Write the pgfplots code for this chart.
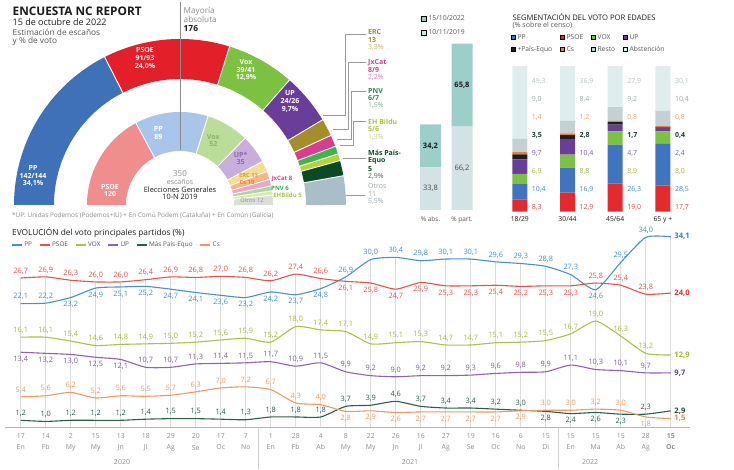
\documentclass[border=0pt]{standalone}
\usepackage{pgfplots}
\usepackage{pgfplotstable}
\pgfplotsset{compat=1.18}
\usepackage{fontspec}
\setmainfont{Open Sans}
\pgfplotsset{/pgf/number format/.cd, use comma, fixed, fixed zerofill, precision=1, assume math mode=true}

% outer ring (2022)
\definecolor{ppO}{HTML}{3E71B8}\definecolor{psoeO}{HTML}{E3202A}\definecolor{voxO}{HTML}{7DC143}
\definecolor{upO}{HTML}{6B3D9A}\definecolor{ercO}{HTML}{A38E2A}\definecolor{jxO}{HTML}{D93D8E}
\definecolor{pnvO}{HTML}{3DB54A}\definecolor{bilduO}{HTML}{B5D334}\definecolor{mpO}{HTML}{0B4A25}
\definecolor{otrosO}{HTML}{A9BEC7}
% inner ring (2019)
\definecolor{psoeI}{HTML}{F08E8E}\definecolor{ppI}{HTML}{A9C6EA}\definecolor{voxI}{HTML}{BBDD9A}
\definecolor{upI}{HTML}{C9ADDB}\definecolor{ercI}{HTML}{F5DE92}\definecolor{csI}{HTML}{F9B585}
\definecolor{jxI}{HTML}{F2A3CA}\definecolor{pnvI}{HTML}{A3DBA3}\definecolor{bilduI}{HTML}{DAEB9C}
\definecolor{otrosI}{HTML}{D9DDDD}
% lines
\definecolor{lPP}{HTML}{4A8FCB}\definecolor{lPSOE}{HTML}{E2534F}\definecolor{lVOX}{HTML}{A9C24A}
\definecolor{lUP}{HTML}{8E62B0}\definecolor{lMP}{HTML}{2C5E45}\definecolor{lCs}{HTML}{EA9A62}
\definecolor{tPP}{HTML}{3D8FC9}\definecolor{tPSOE}{HTML}{E0504F}\definecolor{tVOX}{HTML}{A5B53C}
\definecolor{tUP}{HTML}{7C5C99}\definecolor{tMP}{HTML}{2B5A45}\definecolor{tCs}{HTML}{EA9A60}
\definecolor{ePP}{HTML}{2F7FC0}\definecolor{ePSOE}{HTML}{E03030}\definecolor{eVOX}{HTML}{A0B030}
\definecolor{eUP}{HTML}{5A4A6A}\definecolor{eMP}{HTML}{2A4A3A}\definecolor{eCs}{HTML}{E88A40}
% bars
\definecolor{t22}{HTML}{9DCFC9}\definecolor{t19}{HTML}{D3E3E5}
\definecolor{sPSOE}{HTML}{E42A2D}\definecolor{sPP}{HTML}{4174C0}\definecolor{sVOX}{HTML}{7DC143}
\definecolor{sUP}{HTML}{6B3D9A}\definecolor{sMP}{HTML}{1E1E1E}\definecolor{sCs}{HTML}{F07F2C}
\definecolor{sResto}{HTML}{C4D1D4}\definecolor{sAbst}{HTML}{DFEDEF}
\definecolor{lbAbst}{HTML}{B5C3C6}\definecolor{lbResto}{HTML}{9AA5A7}\definecolor{lbCs}{HTML}{E9A261}
\definecolor{lbMP}{HTML}{1F3B2E}\definecolor{lbUP}{HTML}{7C5BA6}\definecolor{lbVOX}{HTML}{A6B83A}
\definecolor{lbPP}{HTML}{3F8ACB}\definecolor{lbPSOE}{HTML}{E2474A}
% text
\definecolor{txt}{HTML}{1A1A1A}\definecolor{gray1}{HTML}{555555}\definecolor{gray2}{HTML}{8A8A8A}
\definecolor{leadc}{HTML}{9A9A9A}\definecolor{gridc}{HTML}{DCDCDC}\definecolor{axisc}{HTML}{B5B5B5}
\definecolor{tickc}{HTML}{8C8C8C}
\definecolor{ercT}{HTML}{A38E22}\definecolor{ercL}{HTML}{C4B558}
\definecolor{jxT}{HTML}{D63C8C}\definecolor{jxL}{HTML}{E27AB0}
\definecolor{pnvT}{HTML}{2F8C5A}\definecolor{pnvL}{HTML}{7FA890}
\definecolor{bilduT}{HTML}{AFC43A}\definecolor{bilduL}{HTML}{C4D36E}
\definecolor{mpT}{HTML}{0E4A27}\definecolor{mpL}{HTML}{3D6B50}
\definecolor{otrosT}{HTML}{9AA7AD}
\definecolor{voxIT}{HTML}{8FB070}\definecolor{upIT}{HTML}{8A6AAA}\definecolor{ercIT}{HTML}{C9A43A}
\definecolor{csIT}{HTML}{F0822E}\definecolor{otrosIT}{HTML}{8A8F90}\definecolor{pnvIT}{HTML}{3BAA55}
\definecolor{bilduIT}{HTML}{A8C445}\definecolor{jxIT}{HTML}{E0408E}

\newcommand\fs[1]{\fontsize{#1}{#1}\selectfont}
\newcommand\Tw[4]{\node[anchor=west,inner sep=0pt,#3] at (#1,{469-#2}) {#4};}
\newcommand\Tc[4]{\node[anchor=center,inner sep=0pt,align=center,#3] at (#1,{469-#2}) {#4};}

% hemicycle sector: value, degrees per unit, r in, r out, colour
\gdef\cum{0}
\newcommand\ringsector[5]{%
  \pgfmathsetmacro\ha{180-\cum*#2}%
  \pgfmathsetmacro\newcum{\cum+#1}%
  \xdef\cum{\newcum}%
  \pgfmathsetmacro\hb{180-\cum*#2}%
  \pgfmathsetmacro\hm{(#3+#4)/2}%
  \pgfmathsetmacro\hw{#4-#3}%
  \pgfmathsetmacro\hr{#3-1}%
  \pgfmathsetmacro\hR{#4+1}%
  \edef\temp{\noexpand\addplot[draw=#5, line width=\hw pt, domain=\hb:\ha, samples=60, forget plot] ({\hm*cos(x)},{\hm*sin(x)});
    \noexpand\addplot[draw=white, line width=0.9pt, domain=\hr:\hR, samples=2, forget plot] ({x*cos(\ha)},{x*sin(\ha)});}%
  \temp
}

\pgfplotstableread{
x  PP  dPP PSOE dPSOE VOX dVOX UP dUP MP dMP Cs dCs top
0  22.1  1 26.7  1 16.1 1 13.4 -1 1.2  1 5.4  1 26.7
1  22.2  1 26.9  1 16.1 1 13.2 -1 1.0  1 5.6  1 26.9
2  23.2 -1 26.3  1 15.4 1 13.0 -1 1.2  1 6.2  1 26.3
3  24.9 -1 26.0  1 14.6 1 12.5 -1 1.2  1 5.2  1 26.0
4  25.1 -1 26.0  1 14.8 1 12.1 -1 1.2  1 5.6  1 26.0
5  25.2 -1 26.4  1 14.9 1 10.7  1 1.4  1 5.5  1 26.4
6  24.7 -1 26.9  1 15.0 1 10.7  1 1.5  1 5.7  1 26.9
7  24.1 -1 26.8  1 15.2 1 11.3  1 1.5  1 6.3  1 26.8
8  23.6 -1 27.0  1 15.6 1 11.4  1 1.4  1 7.0  1 27.0
9  23.2 -1 26.8  1 15.9 1 11.5  1 1.3  1 7.2  1 26.8
10 24.2 -1 26.2  1 15.2 1 11.7  1 1.8  1 6.7  1 26.2
11 23.7 -1 27.4  1 18.0 1 10.9  1 1.8  1 4.3  1 27.4
12 24.8 -1 26.6  1 17.4 1 11.5  1 1.8  1 4.0  1 26.6
13 26.9  1 26.1 -1 17.1 1  9.9  1 3.7  1 2.8 -1 26.9
14 30.0  1 25.8 -1 14.9 1  9.2  1 3.9  1 2.9 -1 30.0
15 30.4  1 24.7 -1 15.1 1  9.0  1 4.6  1 2.6 -1 30.4
16 29.8  1 25.9 -1 15.3 1  9.2  1 3.7  1 2.7 -1 29.8
17 30.1  1 25.3 -1 14.7 1  9.2  1 3.4  1 2.7 -1 30.1
18 30.1  1 25.3 -1 14.7 1  9.3  1 3.4  1 2.7 -1 30.1
19 29.6  1 25.4 -1 15.1 1  9.6  1 3.2  1 2.7 -1 29.6
20 29.3  1 25.2 -1 15.2 1  9.8  1 3.0  1 2.9 -1 29.3
21 28.8  1 25.3 -1 15.5 1  9.9  1 2.8 -1 3.0  1 28.8
22 27.3  1 25.3 -1 16.7 1 11.1  1 2.4 -1 3.0  1 27.3
23 24.6 -1 25.8  1 19.0 1 10.3  1 2.6 -1 3.2  1 25.8
24 29.5  1 25.4  1 16.3 1 10.1  1 2.3 -1 3.0  1 29.5
25 34.0  1 23.8  1 13.2 1  9.7  1 2.3  1 1.8 -1 34.0
26 34.1  0 24.0  0 12.9 0  9.7  0 2.9  0 1.5  0 34.1
}\evol

\pgfplotstableread{
x PSOE PP VOX UP MP Cs Resto Abst
0 8.3 10.4 6.9 9.7 3.5 1.4 9.0 49.3
1 12.9 16.9 8.8 10.4 2.8 1.2 8.4 36.9
2 19.0 26.3 8.9 4.7 1.7 0.8 9.2 27.9
3 17.7 28.5 8.0 2.4 0.4 0.8 10.4 30.1
}\edades

\pgfplotstableread{
x v19 v22
0 33.8 34.2
1 66.2 65.8
}\abspart

\newcommand\evlab[3]{%
  \addplot[draw=none, mark=none, forget plot, skip coords between index={26}{27},
    nodes near coords, point meta=\thisrow{#1},
    every node near coord/.append style={anchor=center, text=#2, font=\fs{7.4}, inner sep=0pt}]
    table[x=x, y expr=\thisrow{#1}+1.25*\thisrow{d#1}]{\evol};
  \addplot[draw=none, mark=none, forget plot, skip coords between index={0}{26},
    nodes near coords, point meta=\thisrow{#1},
    every node near coord/.append style={anchor=west, xshift=3.5pt, text=#3, font=\bfseries\fs{7.6}, inner sep=0pt}]
    table[x=x, y=#1]{\evol};
}
\newcommand\seglab[4]{% column, row, colour, font
  \addplot[draw=none, mark=none, forget plot, nodes near coords, point meta=\thisrow{#1},
    every node near coord/.append style={anchor=west, text=#3, font=#4, inner sep=0pt}]
    table[x expr=\thisrow{x}+0.25, y expr=#2]{\edades};
}

\begin{document}
\begin{tikzpicture}[x=1pt,y=1pt]
\useasboundingbox (0,0) rectangle (734,469);

% ---------------- hemicycle ----------------
\begin{axis}[at={(13pt,264pt)}, anchor=south west, x=1pt, y=1pt,
  xmin=-167, xmax=167, ymin=0, ymax=167, hide axis, clip=false]
\xdef\cum{0}
\pgfmathsetmacro\ko{180/97.4}
\ringsector{34.1}{\ko}{126}{166}{ppO}
\ringsector{24.0}{\ko}{126}{166}{psoeO}
\ringsector{12.9}{\ko}{126}{166}{voxO}
\ringsector{9.7}{\ko}{126}{166}{upO}
\ringsector{3.3}{\ko}{126}{166}{ercO}
\ringsector{2.2}{\ko}{126}{166}{jxO}
\ringsector{1.5}{\ko}{126}{166}{pnvO}
\ringsector{1.3}{\ko}{126}{166}{bilduO}
\ringsector{2.9}{\ko}{126}{166}{mpO}
\ringsector{5.5}{\ko}{126}{166}{otrosO}
\xdef\cum{0}
\pgfmathsetmacro\ki{180/350}
\ringsector{120}{\ki}{54}{93}{psoeI}
\ringsector{89}{\ki}{54}{93}{ppI}
\ringsector{52}{\ki}{54}{93}{voxI}
\ringsector{35}{\ki}{54}{93}{upI}
\ringsector{13}{\ki}{54}{93}{ercI}
\ringsector{10}{\ki}{54}{93}{csI}
\ringsector{8}{\ki}{54}{93}{jxI}
\ringsector{6}{\ki}{54}{93}{pnvI}
\ringsector{5}{\ki}{54}{93}{bilduI}
\ringsector{12}{\ki}{54}{93}{otrosI}
\end{axis}
\draw[gray2, line width=0.6pt] (180,467) -- (180,319);

% titles
\Tw{12.5}{11.7}{font=\bfseries\fs{11.8}, text=txt}{ENCUESTA NC REPORT}
\Tw{12.5}{22.5}{font=\fs{9}, text=txt}{15 de octubre de 2022}
\Tw{12.5}{32.2}{font=\fs{8.3}, text=gray1}{Estimación de escaños}
\Tw{12.5}{41.6}{font=\fs{8.3}, text=gray1}{y \% de voto}
\Tw{183.5}{11}{font=\fs{8.2}, text=gray2}{Mayoría}
\Tw{183.5}{19.3}{font=\fs{8.2}, text=gray2}{absoluta}
\Tw{183.5}{28.6}{font=\bfseries\fs{8.4}, text=txt}{176}

% wedge labels
\Tc{33}{176}{font=\bfseries\fontsize{7}{7.8}\selectfont, text=white}{PP\\142/144\\34,1\%}
\Tc{145}{58.3}{font=\bfseries\fontsize{7}{7.8}\selectfont, text=white}{PSOE\\91/93\\24,0\%}
\Tc{246}{70}{font=\bfseries\fontsize{7}{7.8}\selectfont, text=white}{Vox\\39/41\\12,9\%}
\Tc{290}{101.5}{font=\bfseries\fontsize{7}{7.8}\selectfont, text=white}{UP\\24/26\\9,7\%}
\Tc{158.3}{133}{font=\bfseries\fontsize{7}{7.5}\selectfont, text=white}{PP\\89}
\Tc{110}{190.5}{font=\bfseries\fontsize{7}{7.5}\selectfont, text=white}{PSOE\\120}
\Tc{213.3}{140.5}{font=\bfseries\fontsize{7}{7.5}\selectfont, text=voxIT}{Vox\\52}
\Tc{240.7}{158.5}{font=\bfseries\fontsize{7}{7.5}\selectfont, text=upIT}{UP*\\35}
\Tc{248.5}{175.8}{font=\bfseries\fs{5.8}, text=ercIT}{ERC 13}
\Tc{247}{182.2}{font=\bfseries\fs{5.8}, text=csIT}{Cs 10}
\Tc{282}{179}{font=\bfseries\fs{6}, text=jxIT}{JxCat 8}
\Tc{280}{188}{font=\bfseries\fs{6}, text=pnvIT}{PNV 6}
\Tc{287.5}{195}{font=\bfseries\fs{6}, text=bilduIT}{EHBildu 5}
\Tc{252}{200.5}{font=\fs{5.8}, text=otrosIT}{Otros 12}
\Tc{180}{173.3}{font=\fs{8}, text=gray2}{350}
\Tc{180}{181.5}{font=\fs{7}, text=gray2}{escaños}
\Tc{180}{189.3}{font=\fs{7.4}, text=txt}{Elecciones Generales}
\Tc{180}{197}{font=\fs{7.4}, text=txt}{10-N 2019}

% right-hand labels and leader lines
\begin{scope}[leadc, line width=0.6pt]
\draw (366,{469-34.3}) -- (345,{469-34.3}) -- (345,{469-115.7}) -- (323,{469-115.7});
\draw (366,{469-62.3}) -- (348.3,{469-62.3}) -- (348.3,{469-129}) -- (333,{469-129});
\draw (366,{469-91.7}) -- (351,{469-91.7}) -- (351,{469-139}) -- (336.7,{469-139});
\draw (366,{469-121.7}) -- (353.3,{469-121.7}) -- (353.3,{469-145}) -- (340,{469-145});
\draw (366,{469-158.3}) -- (343,{469-158.3});
\draw (365,{469-195.7}) -- (346,{469-195.7});
\end{scope}
\Tw{368}{31.7}{font=\bfseries\fs{7}, text=ercT}{ERC}
\Tw{368}{39.8}{font=\bfseries\fs{7}, text=ercT}{13}
\Tw{368}{47.7}{font=\fs{7}, text=ercL}{3,3\%}
\Tw{368}{62.3}{font=\bfseries\fs{7}, text=jxT}{JxCat}
\Tw{368}{70}{font=\bfseries\fs{7}, text=jxT}{8/9}
\Tw{368}{77.7}{font=\fs{7}, text=jxL}{2,2\%}
\Tw{368}{91}{font=\bfseries\fs{7}, text=pnvT}{PNV}
\Tw{368}{98.5}{font=\bfseries\fs{7}, text=pnvT}{6/7}
\Tw{368}{105.7}{font=\fs{7}, text=pnvL}{1,5\%}
\Tw{368}{121.7}{font=\bfseries\fs{7}, text=bilduT}{EH Bildu}
\Tw{368}{129.3}{font=\bfseries\fs{7}, text=bilduT}{5/6}
\Tw{368}{137}{font=\fs{7}, text=bilduL}{1,3\%}
\Tw{368}{152.7}{font=\bfseries\fs{7}, text=mpT}{Más País-}
\Tw{368}{161}{font=\bfseries\fs{7}, text=mpT}{Equo}
\Tw{368}{169}{font=\bfseries\fs{7}, text=mpT}{5}
\Tw{368}{176.7}{font=\fs{7}, text=mpL}{2,9\%}
\Tw{368}{185.7}{font=\fs{7}, text=otrosT}{Otros}
\Tw{368}{194}{font=\fs{7}, text=otrosT}{11}
\Tw{368}{201.7}{font=\fs{7}, text=otrosT}{5,5\%}

\Tw{12}{216}{font=\fs{6.4}, text=gray2}{*UP: Unidas Podemos (Podemos+IU) + En Comú Podem (Cataluña) + En Común (Galicia)}

% ---------------- abstention / participation ----------------
\begin{axis}[at={(414.75pt,259pt)}, anchor=south west, x=31.5pt, y=1.26pt,
  xmin=-0.5, xmax=1.5, ymin=0, ymax=140, hide axis, clip=false,
  ybar stacked, bar width=21pt]
\addplot[fill=t19, draw=none] table[x=x,y=v19]{\abspart};
\addplot[fill=t22, draw=none] table[x=x,y=v22]{\abspart};
\end{axis}
\begin{axis}[at={(414.75pt,259pt)}, anchor=south west, x=31.5pt, y=1.26pt,
  xmin=-0.5, xmax=1.5, ymin=0, ymax=140, hide axis, clip=false,
  legend style={draw=none, fill=none, inner sep=0pt, font=\fs{6.8}, text=gray1,
    at={(0.099,1.117)}, anchor=north west, row sep=3.5pt},
  legend cell align=left,
  legend image code/.code={\fill[#1] (0pt,-2.5pt) rectangle (5pt,2.5pt);}]
\addplot[draw=none, mark=none, forget plot, nodes near coords, point meta=\thisrow{v19},
  every node near coord/.append style={anchor=center, text=txt!80, font=\fs{7.5}, inner sep=0pt}]
  table[x=x, y expr=\thisrow{v19}/2]{\abspart};
\addplot[draw=none, mark=none, forget plot, nodes near coords, point meta=\thisrow{v22},
  every node near coord/.append style={anchor=center, text=txt, font=\bfseries\fs{7.5}, inner sep=0pt}]
  table[x=x, y expr=\thisrow{v19}+\thisrow{v22}/2]{\abspart};
\addlegendimage{fill=t22}\addlegendentry{15/10/2022}
\addlegendimage{fill=t19}\addlegendentry{10/11/2019}
\end{axis}
\Tc{430.5}{219.5}{font=\fs{6.5}, text=gray1}{\% abs.}
\Tc{462}{219.5}{font=\fs{6.5}, text=gray1}{\% part.}

% ---------------- age segmentation ----------------
\begin{axis}[at={(495.95pt,257.3pt)}, anchor=south west, x=47.7pt, y=1.48pt,
  xmin=-0.5, xmax=3.5, ymin=0, ymax=100, hide axis, clip=false,
  ybar stacked, bar width=15pt]
\addplot[fill=sPSOE, draw=none] table[x=x,y=PSOE]{\edades};
\addplot[fill=sPP, draw=none] table[x=x,y=PP]{\edades};
\addplot[fill=sVOX, draw=none] table[x=x,y=VOX]{\edades};
\addplot[fill=sUP, draw=none] table[x=x,y=UP]{\edades};
\addplot[fill=sMP, draw=none] table[x=x,y=MP]{\edades};
\addplot[fill=sCs, draw=none] table[x=x,y=Cs]{\edades};
\addplot[fill=sResto, draw=none] table[x=x,y=Resto]{\edades};
\addplot[fill=sAbst, draw=none] table[x=x,y=Abst]{\edades};
\end{axis}
\begin{axis}[at={(495.95pt,257.3pt)}, anchor=south west, x=47.7pt, y=1.48pt,
  xmin=-0.5, xmax=3.5, ymin=0, ymax=100, hide axis, clip=false,
  legend columns=4,
  legend style={draw=none, fill=none, inner sep=0pt, font=\fs{6.7}, text=gray1,
    at={(0.079,1.214)}, anchor=north west, row sep=1.5pt,
    /tikz/every even column/.append style={column sep=6pt}},
  legend cell align=left,
  legend image code/.code={\fill[#1] (0pt,-2pt) rectangle (4pt,2pt);}]
\seglab{PSOE}{3.2}{lbPSOE}{\fs{7}}
\seglab{PP}{15.1}{lbPP}{\fs{7}}
\seglab{VOX}{27.1}{lbVOX}{\fs{7}}
\seglab{UP}{39.2}{lbUP}{\fs{7}}
\seglab{MP}{51.4}{lbMP}{\bfseries\fs{7}}
\seglab{Cs}{63.8}{lbCs}{\fs{7}}
\seglab{Resto}{75.9}{lbResto}{\fs{7}}
\seglab{Abst}{88.3}{lbAbst}{\fs{7}}
\addlegendimage{fill=sPP}\addlegendentry{PP}
\addlegendimage{fill=sPSOE}\addlegendentry{PSOE}
\addlegendimage{fill=sVOX}\addlegendentry{VOX}
\addlegendimage{fill=sUP}\addlegendentry{UP}
\addlegendimage{fill=sMP}\addlegendentry{+País-Equo}
\addlegendimage{fill=sCs}\addlegendentry{Cs}
\addlegendimage{fill=sResto}\addlegendentry{Resto}
\addlegendimage{fill=sAbst}\addlegendentry{Abstención}
\end{axis}
\Tw{512.5}{16.7}{font=\fs{7.6}, text=txt}{SEGMENTACIÓN DEL VOTO POR EDADES}
\Tw{512.5}{25.2}{font=\fs{7.1}, text=gray1}{(\% sobre el censo)}
\Tc{519.8}{219.5}{font=\fs{6.8}, text=txt}{18/29}
\Tc{567.5}{219.5}{font=\fs{6.8}, text=txt}{30/44}
\Tc{615.2}{219.5}{font=\fs{6.8}, text=txt}{45/64}
\Tc{662.9}{219.5}{font=\fs{6.8}, text=txt}{65 y +}

% ---------------- evolution ----------------
\Tw{12}{232.3}{font=\fs{8.3}, text=txt}{EVOLUCIÓN del voto principales partidos (\%)}
\begin{axis}[at={(5pt,42pt)}, anchor=south west, x=25pt, y=5.58pt,
  xmin=-0.63, xmax=26.77, ymin=0, ymax=35, clip=false,
  axis x line*=bottom, axis y line=none,
  x axis line style={-, draw=axisc, line width=0.8pt},
  xtick={0,...,26}, major tick length=0pt,
  xticklabels={{17\\En},{14\\Fb},{2\\My},{15\\My},{13\\Jn},{18\\Jl},{29\\Ag},{20\\Se},{17\\Oc},{7\\No},
    {1\\En},{28\\Fb},{4\\Ab},{8\\My},{22\\My},{26\\Jn},{16\\Jl},{27\\Ag},{19\\Se},{16\\Oc},{6\\No},{15\\Di},
    {15\\En},{15\\Ma},{15\\Ab},{28\\Ag},{\textbf{15}\\\textbf{Oc}}},
  xticklabel style={align=center, font=\fontsize{6.9}{11.8}\selectfont, text=tickc, inner sep=1pt, yshift=-5pt},
  legend columns=6,
  legend style={draw=none, fill=none, inner sep=0pt, font=\fs{6.4}, text=gray1,
    at={(0.0088,0.932)}, anchor=west,
    /tikz/every even column/.append style={column sep=5pt}},
  legend image code/.code={\draw[#1, line width=1.1pt] (0pt,0pt) -- (10pt,0pt);}]
\addplot[ycomb, draw=gridc, line width=0.7pt, mark=none, forget plot] table[x=x,y=top]{\evol};
\addplot[lPP, line width=1.1pt, mark=none, smooth, tension=0.35] table[x=x,y=PP]{\evol};
\addlegendentry{PP}
\addplot[lPSOE, line width=1.1pt, mark=none, smooth, tension=0.35] table[x=x,y=PSOE]{\evol};
\addlegendentry{PSOE}
\addplot[lVOX, line width=1.1pt, mark=none, smooth, tension=0.35] table[x=x,y=VOX]{\evol};
\addlegendentry{VOX}
\addplot[lUP, line width=1.1pt, mark=none, smooth, tension=0.35] table[x=x,y=UP]{\evol};
\addlegendentry{UP}
\addplot[lMP, line width=1.1pt, mark=none, smooth, tension=0.35] table[x=x,y=MP]{\evol};
\addlegendentry{Más País-Equo}
\addplot[lCs, line width=1.1pt, mark=none, smooth, tension=0.35] table[x=x,y=Cs]{\evol};
\addlegendentry{Cs}
\evlab{PP}{tPP}{ePP}
\evlab{PSOE}{tPSOE}{ePSOE}
\evlab{VOX}{tVOX}{eVOX}
\evlab{UP}{tUP}{eUP}
\evlab{MP}{tMP}{eMP}
\evlab{Cs}{tCs}{eCs}
\end{axis}
\draw[gray!35, line width=0.6pt] (258.2,42) -- (258.2,0);
\draw[gray!35, line width=0.6pt] (558.2,42) -- (558.2,0);
\Tc{122}{462}{font=\fs{7}, text=tickc}{2020}
\Tc{410}{462}{font=\fs{7}, text=tickc}{2021}
\Tc{590}{462}{font=\fs{7}, text=tickc}{2022}
\end{tikzpicture}
\end{document}
